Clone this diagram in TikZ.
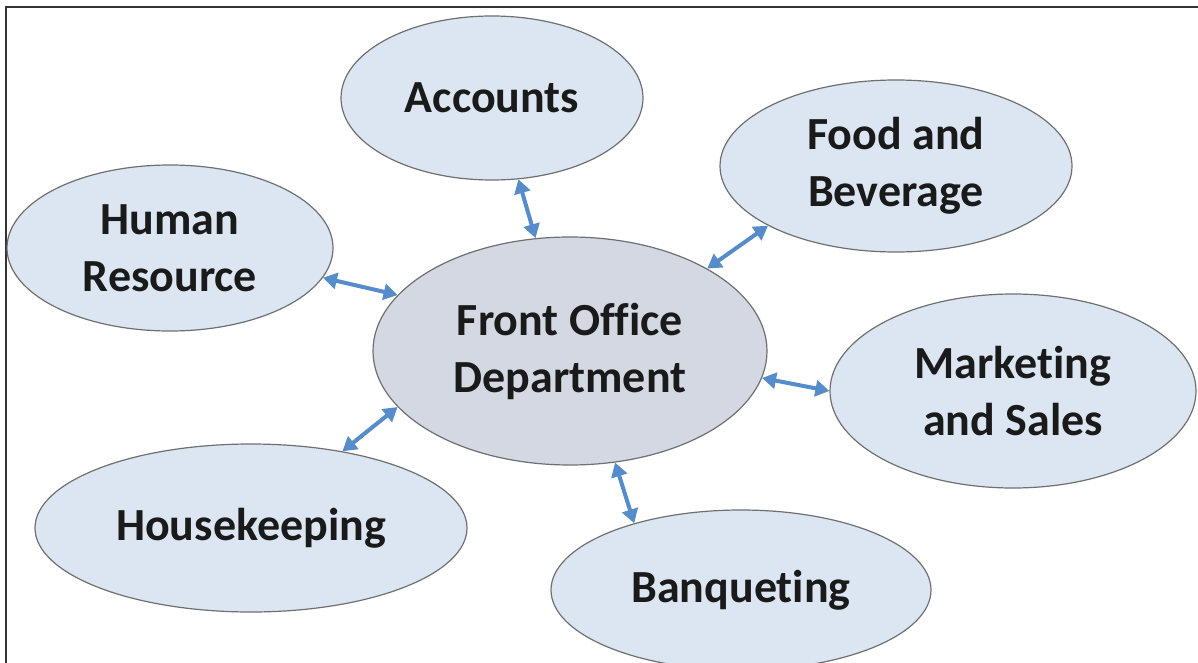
\documentclass[tikz,border=0pt]{standalone}
\usepackage{fontspec}
\setmainfont[Ligatures=NoCommon]{Carlito}
\usetikzlibrary{shapes.geometric,arrows.meta}
\definecolor{bubblefill}{HTML}{DCE6F2}
\definecolor{centerfill}{HTML}{D3D8E3}
\definecolor{bubbleline}{HTML}{6F6F6F}
\definecolor{arrowblue}{HTML}{558CC9}
\definecolor{textblack}{HTML}{1A1A1A}
\definecolor{framegray}{HTML}{333333}
\tikzset{
  bubble/.style={ellipse, draw=bubbleline, line width=1.2pt, fill=bubblefill,
    inner sep=0pt, align=center, text=textblack,
    font=\fontsize{46}{57}\selectfont\bfseries},
  hub/.style={bubble, fill=centerfill},
  link/.style={draw=arrowblue, line width=4pt,
    {Triangle[length=14pt,width=16pt]}-{Triangle[length=14pt,width=16pt]}},
}
\begin{document}
\begin{tikzpicture}[x=1pt,y=-1pt]
\useasboundingbox (0,0) rectangle (1198,663);
\clip (0,0) rectangle (1198,663);
\fill[white] (0,0) rectangle (1198,663);
\draw[framegray, line width=2.5pt] (6,7) rectangle (1230,700);

\node[bubble, minimum width=302pt, minimum height=164pt] (acc) at (492,98) {Accounts};
\node[bubble, minimum width=352pt, minimum height=172pt] (fnb) at (896,166) {Food and\\Beverage};
\node[bubble, minimum width=326pt, minimum height=166pt] (hr) at (170,248) {Human\\Resource};
\node[hub, minimum width=394pt, minimum height=228pt] (fo) at (570,351) {Front Office\\Department};
\node[bubble, minimum width=366pt, minimum height=194pt] (mkt) at (1013,391) {Marketing\\and Sales};
\node[bubble, minimum width=432pt, minimum height=168pt] (hk) at (251,528) {Housekeeping};
\node[bubble, minimum width=380pt, minimum height=160pt] (bq) at (741,590) {Banqueting};

\draw[link] (acc.-72) -- (fo.107);
\draw[link] (fnb.205) -- (fo.31);
\draw[link] (hr.-11) -- (fo.162);
\draw[link] (mkt.180) -- (fo.-8);
\draw[link] (hk.40) -- (fo.198);
\draw[link] (bq.148) -- (fo.-68);
\end{tikzpicture}
\end{document}
